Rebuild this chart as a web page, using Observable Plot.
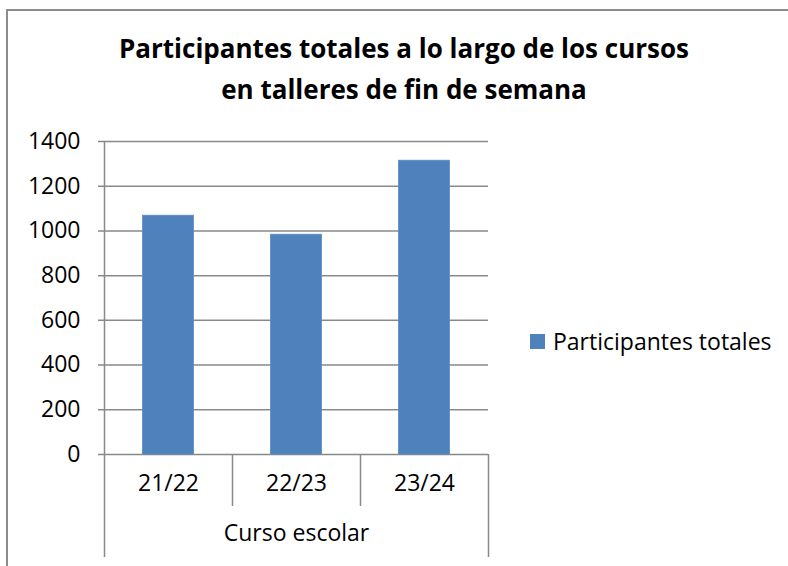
<!DOCTYPE html>
<html>
<head>
<meta charset="utf-8">
<script src="https://cdn.jsdelivr.net/npm/d3@7"></script>
<script src="https://cdn.jsdelivr.net/npm/@observablehq/plot@0.6"></script>
<style>
  html, body { margin: 0; padding: 0; background: #fff; }
  #wrap { position: relative; width: 788px; height: 566px; overflow: hidden; font-family: "Open Sans", sans-serif; color: #000; }
  #border { position: absolute; left: 6px; top: 9px; width: 900px; height: 700px; border: 2px solid #8c8c8c; box-sizing: border-box; }
  .title { position: absolute; left: 6px; width: 796px; text-align: center; font-weight: bold; font-size: 26px; line-height: 26px; white-space: nowrap; }
  #chart { position: absolute; left: 0; top: 0; }
  #legend { position: absolute; left: 530px; top: 329px; display: flex; align-items: center; font-size: 23px; height: 24px; }
  #legend .sw { width: 15px; height: 15px; background: #4f81bd; margin-right: 8px; }
</style>
</head>
<body>
<div id="wrap">
  <div id="border"></div>
  <div id="chart"></div>
  <div class="title" id="t1" style="top:35px"></div>
  <div class="title" id="t2" style="top:76px"></div>
  <div id="legend"><div class="sw"></div><span id="legtext"></span></div>
</div>
<script>
const titleLines = ["Participantes totales a lo largo de los cursos", "en talleres de fin de semana"];
const seriesName = "Participantes totales";
const axisTitle = "Curso escolar";
const cursos = ["21/22", "22/23", "23/24"];
const participantes = [1068, 983, 1314];
const yTicks = [0, 200, 400, 600, 800, 1000, 1200, 1400];

document.getElementById("t1").textContent = titleLines[0];
document.getElementById("t2").textContent = titleLines[1];
document.getElementById("legtext").textContent = seriesName;

const data = cursos.map((c, i) => ({curso: c, value: participantes[i]}));
const grid = "#898989";
const halfBand = 64;
const fs = 23;

const chart = Plot.plot({
  width: 788,
  height: 566,
  marginTop: 141,
  marginBottom: 112,
  marginLeft: 104,
  marginRight: 300,
  style: {fontFamily: "'Open Sans', sans-serif", fontSize: fs + "px", color: "#000", background: "transparent", overflow: "visible"},
  x: {domain: cursos, padding: 0, round: false, axis: null},
  y: {domain: [0, 1400], axis: null},
  marks: [
    Plot.ruleY(yTicks, {stroke: grid, strokeWidth: 1.5, insetLeft: -6}),
    Plot.barY(data, {x: "curso", y: "value", fill: "#4f81bd", stroke: "#5b8ac6", strokeWidth: 0.8, insetLeft: 38.5, insetRight: 38.5}),
    Plot.ruleX([cursos[0]], {dx: -halfBand, stroke: grid, strokeWidth: 1.5, insetBottom: -103}),
    Plot.ruleX(cursos.slice(1), {dx: -halfBand, y1: 0, y2: 0, stroke: grid, strokeWidth: 1.5, insetBottom: -52}),
    Plot.ruleX([cursos[cursos.length - 1]], {dx: halfBand, y1: 0, y2: 0, stroke: grid, strokeWidth: 1.5, insetBottom: -103}),
    Plot.axisY(yTicks, {tickSize: 0, tickPadding: 24, tickFormat: d => String(d), fontSize: fs, label: null, fill: "#000"}),
    Plot.text(cursos, {x: d => d, frameAnchor: "bottom", dy: 36, fontSize: fs, fill: "#000"}),
    Plot.text([axisTitle], {frameAnchor: "bottom", dy: 86, fontSize: fs, fill: "#000"})
  ]
});
document.getElementById("chart").appendChild(chart);
</script>
</body>
</html>
